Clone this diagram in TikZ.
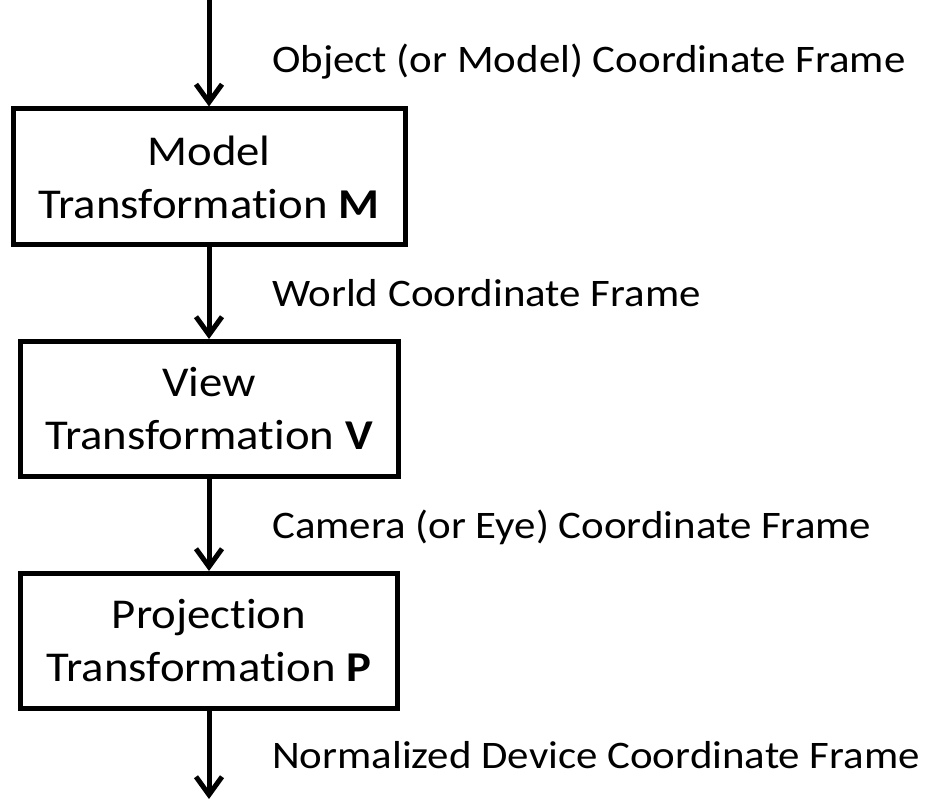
\documentclass[tikz,border=0pt]{standalone}
\usepackage{fontspec}
\setmainfont[FakeStretch=1.1,Ligatures=CommonOff]{Carlito}
\usetikzlibrary{arrows.meta}
\tikzset{
  tbox/.style={draw, line width=5pt, align=center, inner sep=0pt,
    font=\fontsize{42.5}{53}\selectfont},
  flow/.style={line width=5pt, -{Straight Barb[length=18pt,width=26pt]}},
  lbl/.style={anchor=base west, inner sep=0pt, font=\fontsize{39}{45}\selectfont}
}
\begin{document}
\begin{tikzpicture}[x=1pt,y=-1pt]
\useasboundingbox (0,0) rectangle (926,799);
\node[tbox, minimum width=392pt, minimum height=136pt] (m) at (209,177) {Model\\Transformation \textbf{M}};
\node[tbox, minimum width=378pt, minimum height=135pt] (v) at (209,409) {View\\Transformation \textbf{V}};
\node[tbox, minimum width=377pt, minimum height=135pt] (p) at (209,641) {Projection\\Transformation \textbf{P}};
\coordinate (top) at (209,-5);
\coordinate (bot) at (209,799);
\draw[flow] (top) -- (m.north);
\draw[flow] (m.south) -- (v.north);
\draw[flow] (v.south) -- (p.north);
\draw[flow] (p.south) -- (bot);
\node[lbl] (l1) at (272,73) {Object (or Model) Coordinate Frame};
\node[lbl] (l2) at (272,307) {World Coordinate Frame};
\node[lbl] (l3) at (272,538) {Camera (or Eye) Coordinate Frame};
\node[lbl] (l4) at (272,768) {Normalized Device Coordinate Frame};
\end{tikzpicture}
\end{document}
